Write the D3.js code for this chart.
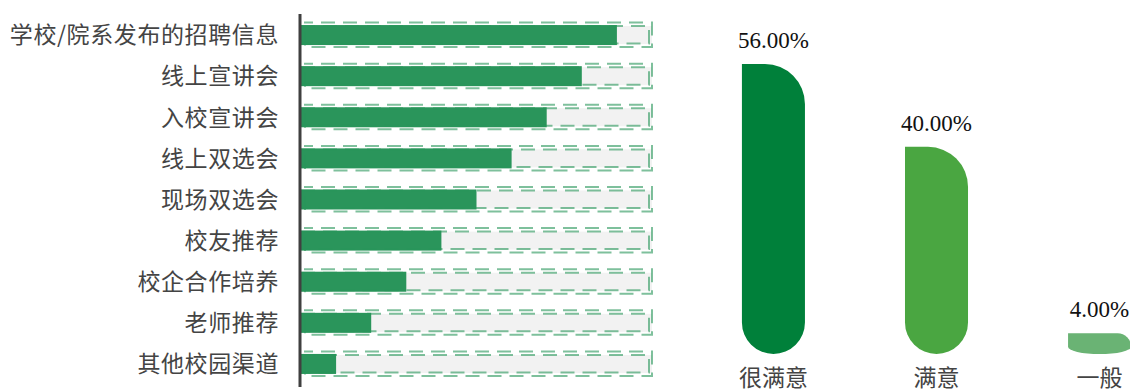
<!DOCTYPE html>
<html>
<head>
<meta charset="utf-8">
<script src="https://cdn.jsdelivr.net/npm/d3@7/dist/d3.min.js"></script>
<style>
  body { margin: 0; background: #fff; }
  svg { display: block; }
</style>
</head>
<body>
<svg id="screen" width="1130" height="392"></svg>
<script>
const screenEl = document.querySelector("#screen");
const svg = d3.select(screenEl);

// data
const channels = ["学校/院系发布的招聘信息", "线上宣讲会", "入校宣讲会", "线上双选会", "现场双选会", "校友推荐", "校企合作培养", "老师推荐", "其他校园渠道"];
const channelValues = [90, 80, 70, 60, 50, 40, 30, 20, 10];
const channelMax = 100;

const levels = ["很满意", "满意", "一般"];
const levelValues = [56, 40, 4];
const levelColors = ["#00803a", "#4aa641", "#6ab374"];

// left chart
const x = d3.scaleLinear().domain([0, channelMax]).range([301, 652]);
const y = d3.scaleBand().domain(channels).range([14.5, 384.5]);

const rows = svg.append("g").selectAll("g").data(channels).join("g")
  .attr("transform", d => "translate(0," + (y(d) + y.bandwidth() / 2) + ")");

// gray track
rows.append("rect")
  .attr("x", x(0)).attr("y", -9)
  .attr("width", x(channelMax) - x(0)).attr("height", 18)
  .attr("fill", "#f2f2f2");

// value bars
rows.append("rect")
  .attr("x", x(0)).attr("y", -10)
  .attr("width", (d, i) => x(channelValues[i]) - x(0)).attr("height", 20)
  .attr("fill", "#1f8f52").attr("fill-opacity", 0.95);

// double dashed frame
rows.append("rect")
  .attr("x", x(0)).attr("y", -9)
  .attr("width", x(channelMax) - x(0) - 3).attr("height", 17.5)
  .attr("fill", "none").attr("stroke", "rgba(40,150,90,0.6)")
  .attr("stroke-width", 2).attr("stroke-dasharray", "14,8");
rows.append("rect")
  .attr("x", x(0) + 4).attr("y", -12.5)
  .attr("width", x(channelMax) - x(0) - 4).attr("height", 24.5)
  .attr("fill", "none").attr("stroke", "rgba(40,150,90,0.6)")
  .attr("stroke-width", 2).attr("stroke-dasharray", "14,8")
  .attr("stroke-dashoffset", 6);

rows.append("text")
  .attr("x", 279).attr("y", 0).attr("dy", "0.36em")
  .attr("text-anchor", "end")
  .attr("font-family", "'Noto Sans CJK SC', sans-serif")
  .attr("font-size", 23).attr("letter-spacing", 0.6).attr("fill", "#444")
  .text(d => d);

// axis line
svg.append("line")
  .attr("x1", 300).attr("x2", 300).attr("y1", 14).attr("y2", 387)
  .attr("stroke", "#404040").attr("stroke-width", 3);

// right chart
const bx = d3.scaleBand().domain(levels).range([693, 1180]).paddingInner(0.6135).paddingOuter(0.3);
const by = d3.scaleLinear().domain([0, 56]).range([354, 64]);

function pillPath(x0, w, top, bottom) {
  const h = bottom - top;
  const rx = w / 2;
  const ry = Math.min(w / 2, h * 0.35);
  const rt = Math.min(40, h - ry);
  const x1 = x0 + w;
  return "M" + x0 + "," + top +
    "L" + (x1 - rt) + "," + top +
    "A" + rt + "," + rt + " 0 0 1 " + x1 + "," + (top + rt) +
    "L" + x1 + "," + (bottom - ry) +
    "A" + rx + "," + ry + " 0 0 1 " + x0 + "," + (bottom - ry) + "Z";
}

const pills = svg.append("g").selectAll("g").data(levels).join("g");

pills.append("path")
  .attr("d", (d, i) => pillPath(bx(d), bx.bandwidth(), by(levelValues[i]), by(0)))
  .attr("fill", (d, i) => levelColors[i]);

pills.append("text")
  .attr("x", d => bx(d) + bx.bandwidth() / 2)
  .attr("y", (d, i) => by(levelValues[i]) - 16)
  .attr("text-anchor", "middle")
  .attr("font-family", "'Liberation Serif', serif")
  .attr("font-size", 23).attr("fill", "#111")
  .text((d, i) => levelValues[i].toFixed(2) + "%");

pills.append("text")
  .attr("x", d => bx(d) + bx.bandwidth() / 2)
  .attr("y", 386)
  .attr("text-anchor", "middle")
  .attr("font-family", "'Noto Sans CJK SC', sans-serif")
  .attr("font-size", 23).attr("fill", "#444")
  .text(d => d);
</script>
</body>
</html>
